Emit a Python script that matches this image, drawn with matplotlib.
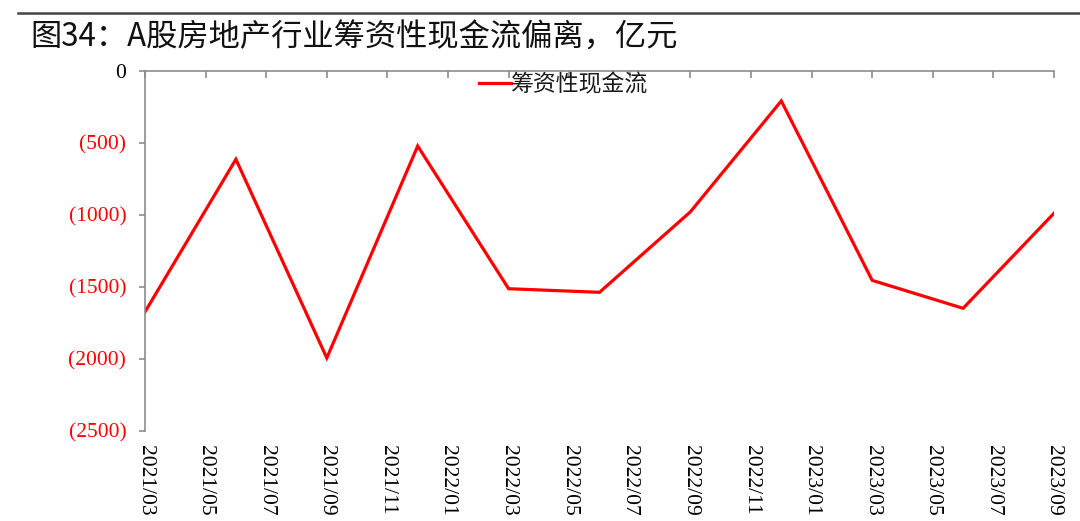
import matplotlib
matplotlib.use("Agg")
import matplotlib.pyplot as plt
from matplotlib.lines import Line2D

plt.rcParams['font.family'] = ['Noto Sans CJK SC', 'DejaVu Sans']

# quarterly data, 亿元
dates = ["2021/03", "2021/06", "2021/09", "2021/12", "2022/03", "2022/06",
         "2022/09", "2022/12", "2023/03", "2023/06", "2023/09"]
values = [-1675, -615, -1995, -523, -1514, -1539, -980, -210, -1456, -1650, -990]

tick_labels = ["2021/03", "2021/05", "2021/07", "2021/09", "2021/11", "2022/01",
               "2022/03", "2022/05", "2022/07", "2022/09", "2022/11", "2023/01",
               "2023/03", "2023/05", "2023/07", "2023/09"]
yticks = [0, -500, -1000, -1500, -2000, -2500]


def month_idx(s):
    y, m = s.split("/")
    return (int(y) - 2021) * 12 + int(m) - 3


x = [month_idx(d) for d in dates]
xt = [month_idx(d) for d in tick_labels]

fig = plt.figure(figsize=(10.8, 5.21), dpi=100)
ax = fig.add_axes([145 / 1080, 1 - 430.7 / 521, 909 / 1080, 360 / 521])

ax.plot(x, values, color='#ff0000', linewidth=2.3, solid_joinstyle='miter')

ax.set_xlim(0, 30)
ax.set_ylim(-2500, 0)

grey = '#8c8c8c'
for s in ['right', 'bottom']:
    ax.spines[s].set_visible(False)
for s in ['top', 'left']:
    ax.spines[s].set_color(grey)
    ax.spines[s].set_linewidth(1.2)

ax.set_xticks(xt)
ax.set_xticklabels(tick_labels, rotation=270, family='Liberation Serif',
                   fontsize=15.5, va='top', ha='center')
ax.tick_params(axis='x', top=True, bottom=False, labeltop=False, labelbottom=True,
               direction='in', length=5, color=grey, width=1.2, pad=10)

ax.set_yticks(yticks)
ylabels = ["0"] + ["({})".format(-v) for v in yticks[1:]]
ax.set_yticklabels(ylabels, family='Liberation Serif', fontsize=15.5)
ax.tick_params(axis='y', direction='out', length=4.5, color=grey, width=1.2, pad=9)
for i, lab in enumerate(ax.get_yticklabels()):
    lab.set_color('black' if i == 0 else '#ff0000')

# legend
handle = Line2D([], [], color='#ff0000', linewidth=2.3)
fig.legend([handle], ["筹资性现金流"], loc='center left',
           bbox_to_anchor=(479 / 1080, 1 - 85 / 521), frameon=False,
           handlelength=1.4, handletextpad=0.0, borderpad=0, borderaxespad=0,
           prop={'family': ['Noto Sans CJK SC'], 'size': 16.5, 'weight': 'medium'},
           labelcolor='#1a1a1a')

# title and top rule
fig.add_artist(Line2D([18 / 1080, 1.0], [1 - 13 / 521, 1 - 13 / 521],
                      color='#444444', linewidth=1.8))
fig.text(30 / 1080, 1 - 38 / 521, "图34：A股房地产行业筹资性现金流偏离，亿元",
         fontsize=22.5, va='center', ha='left', color='#111111', weight='medium')

fig.savefig("out.png", dpi=100)
